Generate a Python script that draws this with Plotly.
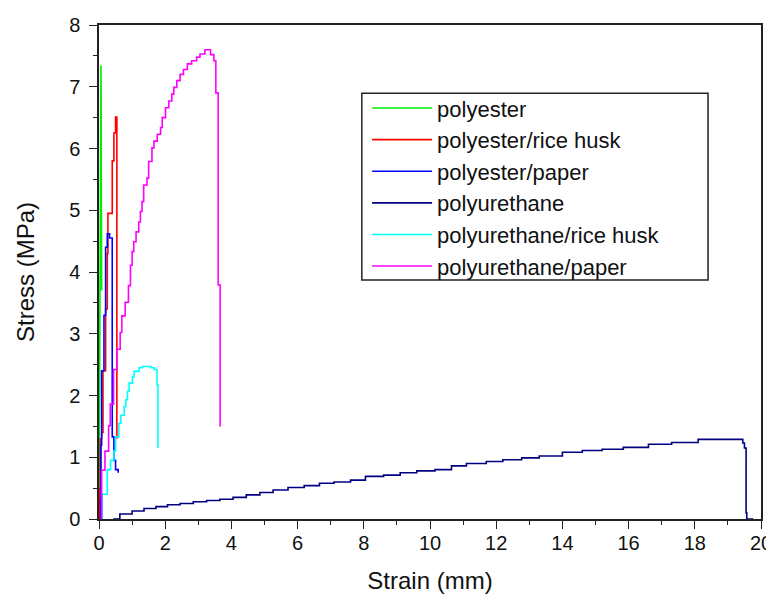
import plotly.graph_objects as go

# ---------------- data ----------------
series_names = ["polyester", "polyester/rice husk", "polyester/paper",
                "polyurethane", "polyurethane/rice husk", "polyurethane/paper"]

polyester_strain = [0.0, 0.01, 0.02, 0.04, 0.06, 0.07, 0.08]
polyester_stress = [0.0, 1.5, 3.7, 5.5, 7.35, 5.5, 3.7]

ricehusk_strain = [0.0, 0.02, 0.04, 0.08, 0.12, 0.2, 0.25, 0.27, 0.4, 0.45, 0.5, 0.54, 0.54]
ricehusk_stress = [0.0, 0.5, 1.3, 1.4, 2.4, 3.4, 4.3, 4.95, 5.8, 6.25, 6.51, 6.51, 1.3]

paper_strain = [0.02, 0.05, 0.06, 0.08, 0.15, 0.2, 0.25, 0.32, 0.4, 0.4, 0.45, 0.5, 0.58]
paper_stress = [0.0, 0.3, 1.2, 2.4, 3.3, 4.4, 4.62, 4.55, 4.55, 1.33, 0.95, 0.8, 0.75]

pu_strain = [0.43, 0.63, 1.0, 1.36, 1.72, 2.07, 2.45, 2.85, 3.25, 3.65, 4.05, 4.45, 4.86,
             5.26, 5.71, 6.2, 6.66, 7.1, 7.6, 8.05, 8.6, 9.1, 9.6, 10.15, 10.65, 11.1,
             11.7, 12.2, 12.77, 13.3, 14.0, 14.6, 15.2, 15.84, 16.6, 17.3, 18.1, 19.4,
             19.45, 19.5, 19.55, 19.57, 19.77]
pu_stress = [0.0, 0.08, 0.13, 0.17, 0.2, 0.23, 0.25, 0.28, 0.3, 0.32, 0.35, 0.39, 0.43,
             0.47, 0.51, 0.54, 0.58, 0.6, 0.63, 0.69, 0.71, 0.75, 0.78, 0.8, 0.86, 0.9,
             0.93, 0.96, 0.99, 1.02, 1.08, 1.11, 1.13, 1.16, 1.21, 1.24, 1.29, 1.29,
             1.23, 1.15, 0.1, 0.0, 0.0]

pu_ricehusk_strain = [0.05, 0.1, 0.25, 0.35, 0.45, 0.5, 0.6, 0.66, 0.76, 0.81, 0.86, 0.91,
                      1.01, 1.06, 1.21, 1.31, 1.57, 1.67, 1.75, 1.78]
pu_ricehusk_stress = [0.0, 0.4, 0.8, 0.95, 1.1, 1.33, 1.55, 1.68, 1.82, 1.93, 2.07, 2.2,
                      2.3, 2.39, 2.45, 2.47, 2.45, 2.42, 2.17, 1.15]

pu_paper_strain = [0.03, 0.08, 0.18, 0.29, 0.34, 0.44, 0.54, 0.64, 0.69, 0.79, 0.89, 0.95,
                   1.0, 1.05, 1.12, 1.2, 1.25, 1.3, 1.35, 1.45, 1.5, 1.6, 1.66, 1.76, 1.86,
                   1.91, 2.01, 2.11, 2.2, 2.26, 2.35, 2.45, 2.55, 2.67, 2.8, 2.95, 3.05,
                   3.2, 3.37, 3.47, 3.53, 3.6, 3.66]
pu_paper_stress = [0.0, 0.79, 1.1, 1.51, 1.86, 2.42, 2.75, 3.02, 3.29, 3.51, 3.78, 4.11,
                   4.33, 4.49, 4.65, 4.81, 4.98, 5.14, 5.41, 5.52, 5.79, 6.01, 6.12, 6.23,
                   6.34, 6.5, 6.66, 6.77, 6.88, 6.99, 7.1, 7.2, 7.28, 7.37, 7.42, 7.48,
                   7.53, 7.6, 7.52, 7.42, 6.9, 3.79, 1.5]

x_ticks = [0, 2, 4, 6, 8, 10, 12, 14, 16, 18, 20]
y_ticks = [0, 1, 2, 3, 4, 5, 6, 7, 8]

# ---------------- figure ----------------
colors = ["#00ee00", "#ff0000", "#0000ff", "#000080", "#00ffff", "#ff00ff"]
xs = [polyester_strain, ricehusk_strain, paper_strain, pu_strain, pu_ricehusk_strain, pu_paper_strain]
ys = [polyester_stress, ricehusk_stress, paper_stress, pu_stress, pu_ricehusk_stress, pu_paper_stress]
shapes = ["linear", "hv", "hv", "hv", "hv", "hv"]

fig = go.Figure()
for name, x, y, c, s in zip(series_names, xs, ys, colors, shapes):
    fig.add_trace(go.Scatter(x=x, y=y, mode="lines", name=name,
                             line=dict(color=c, width=1.6, shape=s)))

font_family = "Liberation Sans, Arial, sans-serif"
axis_common = dict(
    showgrid=False, zeroline=False, showline=True, linecolor="#222222", linewidth=1.5,
    mirror=True, ticks="outside", ticklen=8, tickwidth=1.3, tickcolor="#222222",
    tickfont=dict(family=font_family, size=20, color="#111111"),
    automargin=False,
)

# legend frame (drawn as a paper-anchored rectangle so it can be as wide as the original)
fig.add_shape(type="rect", xref="paper", yref="paper",
              x0=0.397, x1=0.920, y0=0.484, y1=0.862,
              line=dict(color="#222222", width=1.5), fillcolor="white", layer="above")

fig.update_layout(
    width=774, height=599,
    paper_bgcolor="white", plot_bgcolor="white",
    margin=dict(l=91, r=21, t=17, b=88),
    font=dict(family=font_family, color="#111111"),
    xaxis=dict(range=[0, 20], tickvals=x_ticks, ticktext=[str(v) for v in x_ticks],
               title=dict(text="Strain (mm)", font=dict(family=font_family, size=24), standoff=19),
               minor=dict(ticks="outside", ticklen=4, dtick=1, tickcolor="#222222", tickwidth=1.2),
               ticklabelstandoff=-3,
               **axis_common),
    yaxis=dict(range=[0, 8], tickvals=y_ticks, ticktext=[str(v) for v in y_ticks],
               title=dict(text="Stress (MPa)", font=dict(family=font_family, size=24), standoff=28),
               minor=dict(ticks="outside", ticklen=4, dtick=0.5, tickcolor="#222222", tickwidth=1.2),
               ticklabelstandoff=5,
               **axis_common),
    legend=dict(x=0.405, y=0.874, xanchor="left", yanchor="top",
                bgcolor="rgba(0,0,0,0)", borderwidth=0,
                font=dict(family=font_family, size=22, color="#111111"),
                itemwidth=60, tracegroupgap=0),
    showlegend=True,
)

fig.write_html("out.html")
